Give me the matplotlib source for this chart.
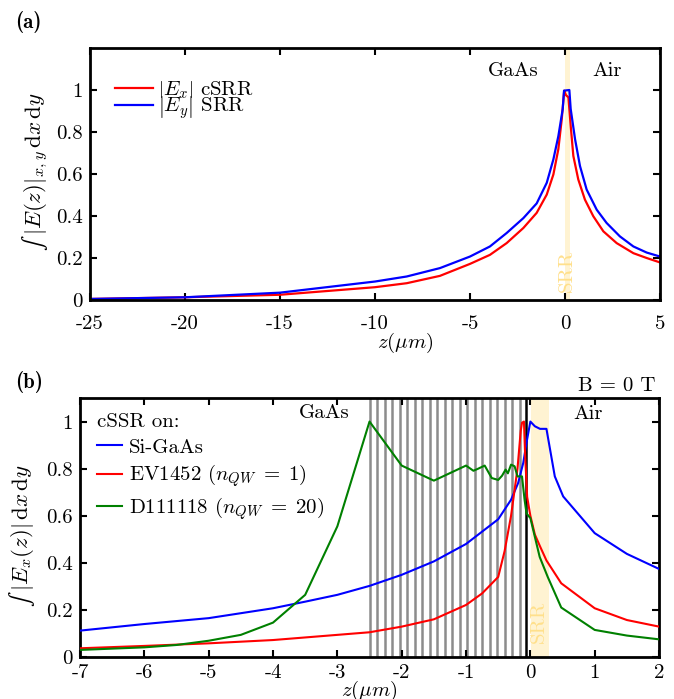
import matplotlib
matplotlib.use("Agg")
import matplotlib.pyplot as plt

plt.rcParams['font.family'] = 'serif'
plt.rcParams['font.serif'] = ['cmr10']
plt.rcParams['mathtext.fontset'] = 'cm'
plt.rcParams['axes.unicode_minus'] = False
plt.rcParams['axes.formatter.use_mathtext'] = True

FS = 15

# ---------------- data: panel (a) ----------------
a_blue_z = [-25, -20, -15, -10, -8.33, -6.58, -5, -3.95, -3.07, -2.19, -1.49, -0.96,
            -0.61, -0.35, -0.12, -0.05, 0.23, 0.30, 0.53, 0.79, 1.14, 1.67, 2.19,
            2.89, 3.6, 4.3, 5.0]
a_blue = [0.005, 0.013, 0.035, 0.088, 0.112, 0.152, 0.207, 0.255, 0.319, 0.39, 0.46,
          0.558, 0.67, 0.78, 0.909, 0.997, 1.0, 0.91, 0.766, 0.638, 0.526, 0.43,
          0.367, 0.303, 0.255, 0.226, 0.207]
a_red_z = [-25, -20, -15, -10, -8.33, -6.58, -5, -3.95, -3.07, -2.19, -1.49, -0.96,
           -0.61, -0.35, -0.17, -0.04, 0.05, 0.18, 0.30, 0.44, 0.7, 1.05, 1.49, 2.02,
           2.72, 3.6, 4.3, 5.0]
a_red = [0.005, 0.013, 0.025, 0.061, 0.08, 0.115, 0.172, 0.215, 0.271, 0.343, 0.415,
         0.502, 0.598, 0.718, 0.861, 0.997, 0.976, 0.965, 0.83, 0.686, 0.574, 0.478,
         0.399, 0.327, 0.271, 0.223, 0.2, 0.179]
a_labels = [r'$\left|E_x\right|$ cSRR', r'$\left|E_y\right|$ SRR']
a_xticks = [-25, -20, -15, -10, -5, 0, 5]
a_yticks = [0, 0.2, 0.4, 0.6, 0.8, 1]
a_ytick_labels = ['0', '0.2', '0.4', '0.6', '0.8', '1']
a_srr = (-0.02, 0.26)

# ---------------- data: panel (b) ----------------
b_blue_z = [-7, -6, -5, -4, -3.5, -3, -2.5, -2, -1.5, -1, -0.5, -0.3, -0.19, -0.11,
            -0.06, 0.0, 0.07, 0.15, 0.25, 0.38, 0.51, 1.0, 1.5, 2.0]
b_blue = [0.112, 0.14, 0.165, 0.207, 0.235, 0.264, 0.302, 0.349, 0.406, 0.48, 0.585,
          0.668, 0.739, 0.825, 0.91, 1.0, 0.98, 0.969, 0.969, 0.767, 0.682, 0.526,
          0.438, 0.374]
b_red_z = [-7, -6, -5, -4, -3, -2.5, -2, -1.5, -1, -0.75, -0.5, -0.4, -0.3, -0.2,
           -0.15, -0.13, -0.1, -0.08, -0.05, 0.0, 0.07, 0.15, 0.25, 0.48, 1.0, 1.5, 2.0]
b_red = [0.037, 0.047, 0.058, 0.072, 0.094, 0.105, 0.129, 0.16, 0.221, 0.27, 0.34,
         0.45, 0.6, 0.80, 0.96, 0.995, 1.0, 0.85, 0.68, 0.6, 0.52, 0.47, 0.41, 0.313,
         0.207, 0.157, 0.129]
b_green_z = [-7, -6, -5.5, -5, -4.5, -4, -3.5, -3, -2.5, -2, -1.5, -1, -0.885, -0.81,
             -0.71, -0.6, -0.5, -0.44, -0.385, -0.35, -0.3, -0.245, -0.2, -0.13,
             -0.09, -0.06, 0.0, 0.07, 0.145, 0.27, 0.48, 1.0, 1.5, 2.0]
b_green = [0.030, 0.041, 0.051, 0.069, 0.094, 0.146, 0.264, 0.555, 1.0, 0.813, 0.749,
           0.813, 0.791, 0.80, 0.813, 0.76, 0.752, 0.77, 0.796, 0.78, 0.817, 0.81,
           0.767, 0.767, 0.668, 0.61, 0.59, 0.51, 0.425, 0.34, 0.21, 0.115, 0.091,
           0.075]
b_labels = ['Si-GaAs', r'EV1452 ($n_{QW}\;=\;1$)', r'D111118 ($n_{QW}\;=\;20$)']
b_xticks = [-7, -6, -5, -4, -3, -2, -1, 0, 1, 2]
b_yticks = [0, 0.2, 0.4, 0.6, 0.8, 1]
b_ytick_labels = ['0', '0.2', '0.4', '0.6', '0.8', '1']
b_qw = [-2.50, -2.383, -2.267, -2.15, -2.033, -1.917, -1.80, -1.683, -1.567, -1.45,
        -1.333, -1.217, -1.10, -0.983, -0.867, -0.75, -0.633, -0.517, -0.40, -0.283,
        -0.167]
b_interface = -0.075
b_srr = (0.015, 0.285)

RED = '#ff0000'
BLUE = '#0000ff'
GREEN = '#008000'
BAND = '#fff3d2'
SRRTXT = '#ffe08c'

fig = plt.figure(figsize=(6.74, 6.99), dpi=100)
ax1 = fig.add_axes([0.1335, 0.5708, 0.8457, 0.3605])
ax2 = fig.add_axes([0.1187, 0.0601, 0.8591, 0.3705])


def style(ax, pad):
    for s in ax.spines.values():
        s.set_linewidth(2.0)
    ax.tick_params(direction='in', top=True, right=True, length=5, width=1.5,
                   labelsize=FS, pad=5)
    ax.tick_params(axis='x', pad=pad)


# ---------------- panel (a) ----------------
ax1.axvspan(a_srr[0], a_srr[1], color=BAND, zorder=0, lw=0)
ax1.plot(a_red_z, a_red, color=RED, lw=1.6, label=a_labels[0])
ax1.plot(a_blue_z, a_blue, color=BLUE, lw=1.6, label=a_labels[1])
ax1.set_xlim(-25, 5)
ax1.set_ylim(0, 1.2)
ax1.set_xticks(a_xticks)
ax1.set_xticklabels([str(t) for t in a_xticks])
ax1.set_yticks(a_yticks)
ax1.set_yticklabels(a_ytick_labels)
style(ax1, 11)
ax1.set_xlabel(r'$z(\mu m)$', fontsize=FS)
ax1.xaxis.set_label_coords(0.554, -0.122)
ax1.set_ylabel('$\u222b\\;\\left|E(z)\\right|_{x,y}\\,\\mathrm{d}x\\,\\mathrm{d}y$',
               fontsize=16.5)
ax1.yaxis.set_label_coords(-0.071, 0.51)
ax1.text(-2.74, 1.09, 'GaAs', fontsize=FS, ha='center', va='center')
ax1.text(2.2, 1.09, 'Air', fontsize=FS, ha='center', va='center')
ax1.text(0.1, 0.14, 'SRR', fontsize=FS, color=SRRTXT, rotation=90,
         ha='center', va='center')
leg1 = ax1.legend(loc='upper left', bbox_to_anchor=(0.044, 0.875), frameon=False,
                  fontsize=FS, handlelength=1.8, handletextpad=0.25,
                  labelspacing=-0.3, borderpad=0, borderaxespad=0)
fig.text(15 / 674, 1 - 22 / 699, '(a)', fontsize=FS, family='cmb10',
         ha='left', va='center')

# ---------------- panel (b) ----------------
ax2.axvspan(b_srr[0], b_srr[1], color=BAND, zorder=0, lw=0)
for q in b_qw:
    ax2.axvline(q, color='#8c8c8c', lw=1.8, zorder=1)
ax2.axvline(b_interface, color='black', lw=1.8, zorder=1)
ax2.plot(b_blue_z, b_blue, color=BLUE, lw=1.5, label=b_labels[0], zorder=3)
ax2.plot(b_red_z, b_red, color=RED, lw=1.5, label=b_labels[1], zorder=3)
ax2.plot(b_green_z, b_green, color=GREEN, lw=1.5, label=b_labels[2], zorder=3)
ax2.set_xlim(-7, 2)
ax2.set_ylim(0, 1.1)
ax2.set_xticks(b_xticks)
ax2.set_xticklabels([str(t) for t in b_xticks])
ax2.set_yticks(b_yticks)
ax2.set_yticklabels(b_ytick_labels)
style(ax2, 5)
ax2.set_xlabel(r'$z(\mu m)$', fontsize=FS, labelpad=-2)
ax2.set_ylabel('$\u222b\\;\\left|E_x(z)\\right|\\,\\mathrm{d}x\\,\\mathrm{d}y$',
               fontsize=16.5)
ax2.yaxis.set_label_coords(-0.074, 0.47)
ax2.text(-3.2, 1.038, 'GaAs', fontsize=FS, ha='center', va='center')
ax2.text(0.89, 1.03, 'Air', fontsize=FS, ha='center', va='center')
ax2.text(0.14, 0.15, 'SRR', fontsize=FS, color=SRRTXT, rotation=90,
         ha='center', va='center', zorder=2)
ax2.text(0.993, 1.01, 'B = 0 T', fontsize=FS, ha='right', va='bottom',
         transform=ax2.transAxes)
ax2.text(0.029, 1 - 24 / 259, 'cSSR on:', fontsize=FS, ha='left', va='center',
         transform=ax2.transAxes)
leg2 = ax2.legend(loc='upper left', bbox_to_anchor=(0.029, 1 - 40 / 259),
                  frameon=False, fontsize=FS,
                  handlelength=1.2, handletextpad=0.35, labelspacing=0.29,
                  borderpad=0, borderaxespad=0)
leg2.set_zorder(5)
fig.text(15 / 674, 1 - 382 / 699, '(b)', fontsize=FS, family='cmb10',
         ha='left', va='center')

fig.savefig('out.png', dpi=100)
